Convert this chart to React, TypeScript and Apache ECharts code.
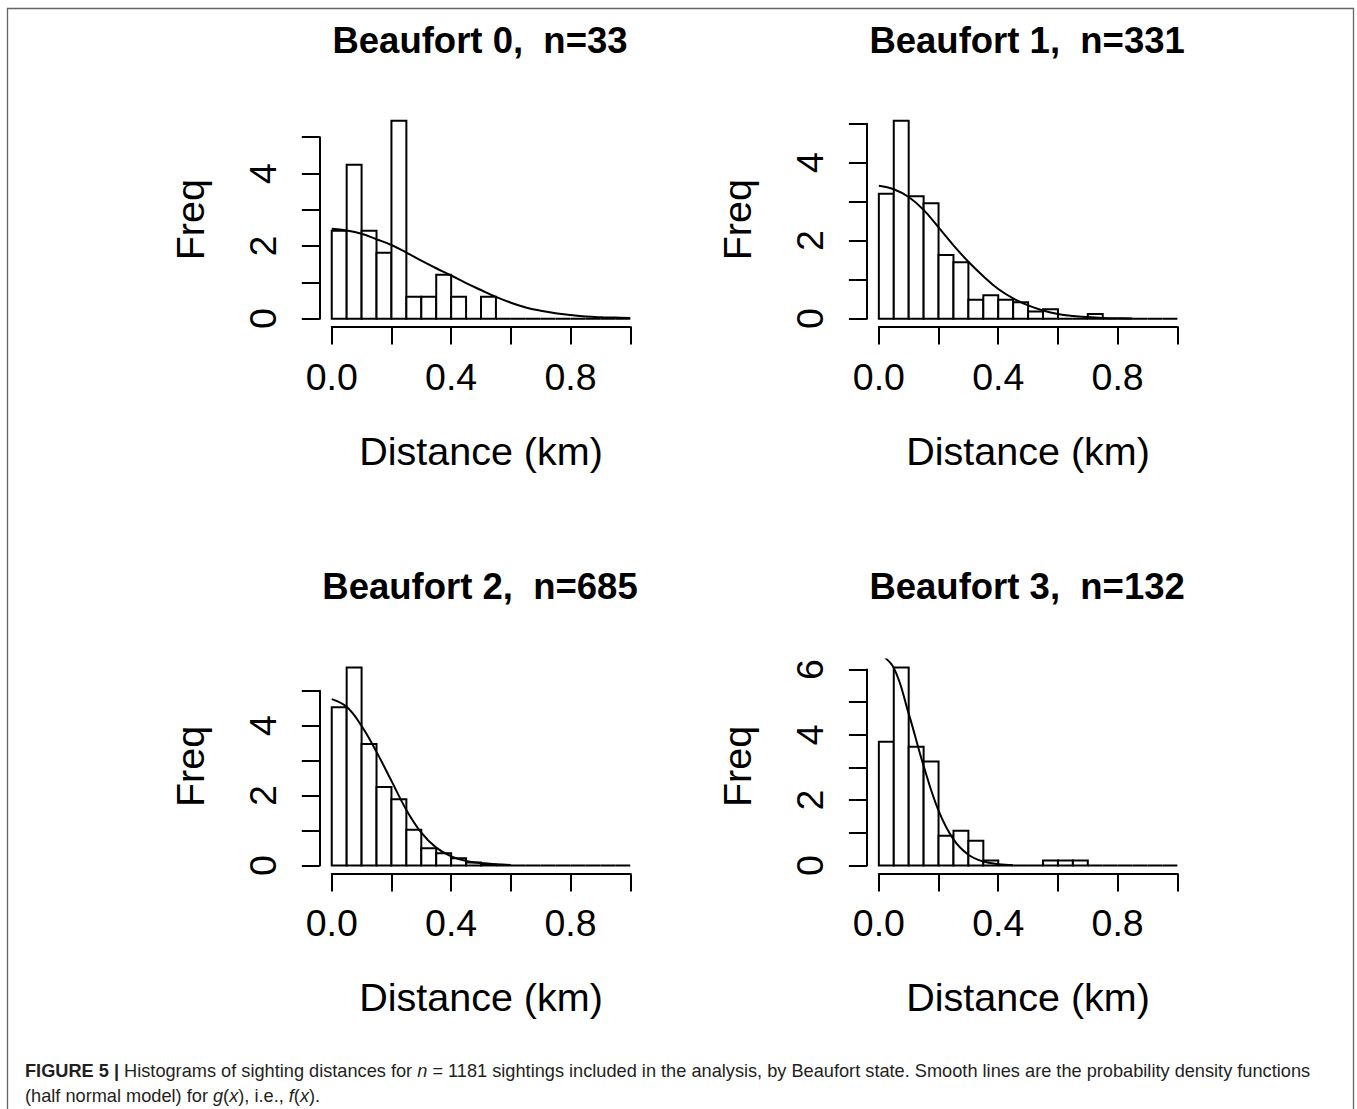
import React, { useEffect, useRef } from 'react';
import * as echarts from 'echarts';

// ---------------- data ----------------
const binEdges = [0, 0.05, 0.1, 0.15, 0.2, 0.25, 0.3, 0.35, 0.4, 0.45, 0.5, 0.55, 0.6, 0.65, 0.7, 0.75, 0.8, 0.85, 0.9, 0.95, 1.0];

const panelTitles = ['Beaufort 0,  n=33', 'Beaufort 1,  n=331', 'Beaufort 2,  n=685', 'Beaufort 3,  n=132'];

// histogram densities (bar heights) per 0.05 km bin
const beaufort0Density = [2.424, 4.242, 2.424, 1.818, 5.455, 0.606, 0.606, 1.212, 0.606, 0, 0.606, 0, 0, 0, 0, 0, 0, 0, 0, 0];
const beaufort1Density = [3.202, 5.076, 3.142, 2.961, 1.631, 1.45, 0.483, 0.604, 0.483, 0.423, 0.181, 0.242, 0, 0, 0.121, 0, 0, 0, 0, 0];
const beaufort2Density = [4.526, 5.664, 3.474, 2.248, 1.898, 1.022, 0.496, 0.35, 0.204, 0.088, 0.029, 0, 0, 0, 0, 0, 0, 0, 0, 0];
const beaufort3Density = [3.788, 6.061, 3.636, 3.182, 0.909, 1.061, 0.758, 0.152, 0, 0, 0, 0.152, 0.152, 0.152, 0, 0, 0, 0, 0, 0];

// fitted half-normal pdf curves, read at these distances
const curveX = [0, 0.05, 0.1, 0.15, 0.2, 0.25, 0.3, 0.35, 0.4, 0.45, 0.5, 0.55, 0.6, 0.65, 0.7, 0.75, 0.8, 0.85, 0.9, 0.95, 1.0];
const beaufort0Curve = [2.48, 2.43, 2.34, 2.19, 2.03, 1.82, 1.6, 1.39, 1.19, 0.98, 0.79, 0.6, 0.44, 0.31, 0.22, 0.15, 0.1, 0.06, 0.04, 0.03, 0.02];
const beaufort1Curve = [3.41, 3.32, 3.12, 2.79, 2.34, 1.88, 1.46, 1.09, 0.76, 0.52, 0.34, 0.21, 0.12, 0.07, 0.04, 0.02, 0.01, 0.005];
const beaufort2Curve = [4.76, 4.54, 3.99, 3.25, 2.42, 1.59, 0.94, 0.51, 0.26, 0.13, 0.07, 0.035, 0.015];
const beaufort3Curve = [6.5, 6.05, 4.65, 3.05, 1.68, 0.8, 0.33, 0.12, 0.04, 0.01];

// tick labels
const xTickLabels = ['0.0', '', '0.4', '', '0.8', ''];
const yTickLabels5 = ['0', '', '2', '', '4', ''];
const yTickLabels6 = ['0', '', '2', '', '4', '', '6'];

const xAxisTitle = 'Distance (km)';
const yAxisTitle = 'Freq';

const captionLine1 =
  '{b|FIGURE 5 |} Histograms of sighting distances for {i|n} = 1181 sightings included in the analysis, by Beaufort state. Smooth lines are the probability density functions';
const captionLine2 = '(half normal model) for {i|g}({i|x}), i.e., {i|f}({i|x}).';

// ---------------- layout ----------------
const W = 1357;
const H = 1109;
const FONT = '"Liberation Sans", Arial, Helvetica, sans-serif';
const colLeft = [319.8, 866.9];
const rowTop = [112.8, 659.6];
const plotW = 322.4;
const plotH = 213.8;
const CAP_FS = 18.2;

export default function App() {
  const ref = useRef<HTMLDivElement>(null);

  useEffect(() => {
    if (!ref.current) return;
    const chart = echarts.init(ref.current, undefined, { renderer: 'svg', width: W, height: H });

    const panels = [
      { title: panelTitles[0], density: beaufort0Density, curve: beaufort0Curve, yTicks: yTickLabels5, col: 0, row: 0 },
      { title: panelTitles[1], density: beaufort1Density, curve: beaufort1Curve, yTicks: yTickLabels5, col: 1, row: 0 },
      { title: panelTitles[2], density: beaufort2Density, curve: beaufort2Curve, yTicks: yTickLabels5, col: 0, row: 1 },
      { title: panelTitles[3], density: beaufort3Density, curve: beaufort3Curve, yTicks: yTickLabels6, col: 1, row: 1 },
    ];

    const grid: any[] = [];
    const xAxis: any[] = [];
    const yAxis: any[] = [];
    const series: any[] = [];
    const graphic: any[] = [
      {
        type: 'rect',
        shape: { x: 7.5, y: 8.5, width: 1346, height: 1200 },
        style: { fill: 'none', stroke: '#666', lineWidth: 1.3 },
        silent: true,
      },
    ];

    const axisLineStyle = { color: '#000', width: 2 };
    const labelStyle = { color: '#000', fontSize: 37.5, fontFamily: FONT };
    const nameStyle = { color: '#000', fontSize: 39.5, fontFamily: FONT };

    panels.forEach((p) => {
      const left = colLeft[p.col];
      const top = rowTop[p.row];
      const M = Math.max(...p.density);
      const yMin = -0.04 * M;
      const yMax = 1.04 * M;
      const T = p.yTicks.length - 1;
      const pxPerUnit = plotH / (1.08 * M);

      // data grid (plot region)
      const g0 = grid.length;
      grid.push({ left, top, width: plotW, height: plotH });
      xAxis.push({ gridIndex: g0, type: 'value', min: -0.04, max: 1.04, show: false });
      yAxis.push({
        gridIndex: g0,
        type: 'value',
        min: yMin,
        max: yMax,
        axisLine: { show: false, onZero: false },
        axisTick: { show: false },
        axisLabel: { show: false },
        splitLine: { show: false },
        name: yAxisTitle,
        nameLocation: 'middle',
        nameGap: 110,
        nameTextStyle: nameStyle,
      });

      // x axis (spans 0..1)
      const gx = grid.length;
      grid.push({ left: left + (plotW * 0.04) / 1.08, top: top + plotH - 10, width: plotW / 1.08, height: 10 });
      xAxis.push({
        gridIndex: gx,
        type: 'value',
        min: 0,
        max: 1,
        interval: 0.2,
        position: 'bottom',
        axisLine: { show: true, onZero: false, lineStyle: axisLineStyle },
        axisTick: { show: true, length: 18, lineStyle: axisLineStyle },
        axisLabel: { ...labelStyle, margin: 31, formatter: (_v: number, idx: number) => xTickLabels[idx] ?? '' },
        splitLine: { show: false },
        name: xAxisTitle,
        nameLocation: 'middle',
        nameGap: 104,
        nameTextStyle: nameStyle,
      });
      yAxis.push({ gridIndex: gx, type: 'value', min: 0, max: 1, show: false });

      // y axis (spans 0..T)
      const gy = grid.length;
      grid.push({ left, top: top + (yMax - T) * pxPerUnit, width: 10, height: T * pxPerUnit });
      xAxis.push({ gridIndex: gy, type: 'value', min: 0, max: 1, show: false });
      yAxis.push({
        gridIndex: gy,
        type: 'value',
        min: 0,
        max: T,
        interval: 1,
        position: 'left',
        axisLine: { show: true, onZero: false, lineStyle: axisLineStyle },
        axisTick: { show: true, length: 18, lineStyle: axisLineStyle },
        axisLabel: { ...labelStyle, rotate: 90, margin: 38, formatter: (_v: number, idx: number) => p.yTicks[idx] ?? '' },
        splitLine: { show: false },
      });

      // histogram bars
      series.push({
        type: 'custom',
        xAxisIndex: g0,
        yAxisIndex: g0,
        z: 2,
        encode: { x: [0, 1], y: 2 },
        data: p.density.map((h, k) => [binEdges[k], binEdges[k + 1], h]),
        renderItem: (_params: any, api: any) => {
          const p0 = api.coord([api.value(0), api.value(2)]);
          const p1 = api.coord([api.value(1), 0]);
          return {
            type: 'rect',
            shape: { x: p0[0], y: p0[1], width: p1[0] - p0[0], height: p1[1] - p0[1] },
            style: { fill: '#fff', stroke: '#000', lineWidth: 2 },
          };
        },
      });

      // pdf curve
      series.push({
        type: 'line',
        xAxisIndex: g0,
        yAxisIndex: g0,
        z: 3,
        data: p.curve.map((v, k) => [curveX[k], v]),
        showSymbol: false,
        symbol: 'none',
        smooth: 0.4,
        clip: true,
        lineStyle: { color: '#000', width: 2 },
      });

      // panel title
      graphic.push({
        type: 'text',
        x: left + plotW / 2 - 1,
        y: top - 72.7,
        style: {
          text: p.title,
          fill: '#000',
          fontSize: 36.5,
          fontWeight: 'bold',
          fontFamily: FONT,
          align: 'center',
          verticalAlign: 'middle',
          textAlign: 'center',
          textVerticalAlign: 'middle',
        },
      });
    });

    const capBase = { fontSize: CAP_FS, fontFamily: FONT, fill: '#231f20' };
    const rich = {
      b: { fontSize: CAP_FS, fontFamily: FONT, fontWeight: 'bold', fill: '#231f20', color: '#231f20' },
      i: { fontSize: CAP_FS, fontFamily: FONT, fontStyle: 'italic', fill: '#231f20', color: '#231f20' },
    };
    graphic.push({
      type: 'text',
      x: 25,
      y: 1070.5,
      style: { ...capBase, text: captionLine1, rich, align: 'left', verticalAlign: 'middle', textAlign: 'left', textVerticalAlign: 'middle' },
    });
    graphic.push({
      type: 'text',
      x: 25,
      y: 1096,
      style: { ...capBase, text: captionLine2, rich, align: 'left', verticalAlign: 'middle', textAlign: 'left', textVerticalAlign: 'middle' },
    });

    chart.setOption({
      animation: false,
      backgroundColor: '#fff',
      grid,
      xAxis,
      yAxis,
      series,
      graphic,
    });

    return () => chart.dispose();
  }, []);

  return <div ref={ref} style={{ position: 'absolute', left: 0, top: 0, width: W, height: H }} />;
}
